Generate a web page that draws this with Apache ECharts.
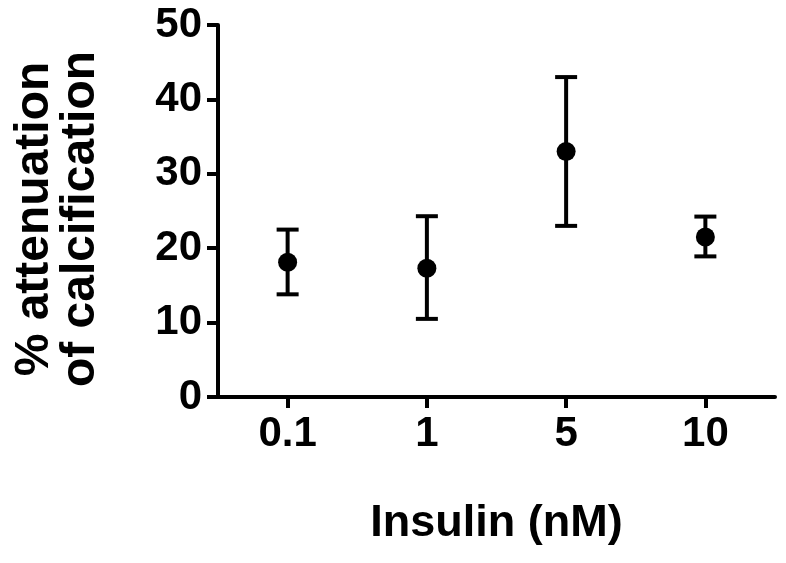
<!DOCTYPE html>
<html>
<head>
<meta charset="utf-8">
<script src="https://cdn.jsdelivr.net/npm/echarts@6/dist/echarts.min.js"></script>
<style>html,body{margin:0;padding:0;background:#fff}#c{width:786px;height:563px}</style>
</head>
<body>
<div id="c"></div>
<script>
var categories = ['0.1', '1', '5', '10'];
var means = [18.1, 17.3, 33.0, 21.5];
var lower = [13.8, 10.5, 23.0, 18.9];
var upper = [22.5, 24.3, 43.0, 24.25];
var yTicks = [0, 10, 20, 30, 40, 50];

var FONT = '"Liberation Sans", Arial, sans-serif';
var chart = echarts.init(document.getElementById('c'), null, {renderer: 'canvas'});

var errData = categories.map(function (c, i) { return [i, lower[i], upper[i]]; });
var ptData = categories.map(function (c, i) { return [i, means[i]]; });

chart.setOption({
  animation: false,
  backgroundColor: '#ffffff',
  grid: {left: 218, right: 11, top: 25, bottom: 166, containLabel: false},
  xAxis: {
    type: 'category',
    data: categories,
    boundaryGap: true,
    name: 'Insulin (nM)',
    nameLocation: 'middle',
    nameGap: 104,
    nameTextStyle: {fontFamily: FONT, fontWeight: 'bold', fontSize: 45, color: '#000'},
    axisLine: {show: true, lineStyle: {color: '#000', width: 4}},
    axisTick: {show: true, alignWithLabel: true, length: 11, lineStyle: {color: '#000', width: 4}},
    axisLabel: {fontFamily: FONT, fontWeight: 'bold', fontSize: 42, color: '#000', margin: 16},
    splitLine: {show: false}
  },
  yAxis: {
    type: 'value',
    min: yTicks[0],
    max: yTicks[yTicks.length - 1],
    interval: 10,
    axisLine: {show: true, lineStyle: {color: '#000', width: 4}},
    axisTick: {show: true, length: 11, lineStyle: {color: '#000', width: 4}},
    axisLabel: {fontFamily: FONT, fontWeight: 'bold', fontSize: 42, color: '#000', margin: 16},
    splitLine: {show: false}
  },
  graphic: [{
    type: 'text',
    x: 58,
    y: 219,
    rotation: Math.PI / 2,
    style: {
      text: '% attenuation\nof calcification',
      x: 0, y: 0,
      fontFamily: FONT, fontWeight: 'bold', fontSize: 48, lineHeight: 46,
      fill: '#000', align: 'center', verticalAlign: 'middle'
    },
    silent: true
  }],
  series: [{
    type: 'custom',
    data: errData,
    renderItem: function (params, api) {
      var x = api.value(0);
      var lo = api.coord([x, api.value(1)]);
      var hi = api.coord([x, api.value(2)]);
      var hw = 11;
      var st = {stroke: '#000', lineWidth: 4};
      return {
        type: 'group',
        children: [
          {type: 'line', shape: {x1: lo[0], y1: lo[1], x2: hi[0], y2: hi[1]}, style: st},
          {type: 'line', shape: {x1: hi[0] - hw, y1: hi[1], x2: hi[0] + hw, y2: hi[1]}, style: st},
          {type: 'line', shape: {x1: lo[0] - hw, y1: lo[1], x2: lo[0] + hw, y2: lo[1]}, style: st}
        ]
      };
    },
    z: 2
  }, {
    type: 'scatter',
    data: ptData,
    symbol: 'circle',
    symbolSize: 19,
    itemStyle: {color: '#000', opacity: 1},
    z: 3
  }]
});
</script>
</body>
</html>
